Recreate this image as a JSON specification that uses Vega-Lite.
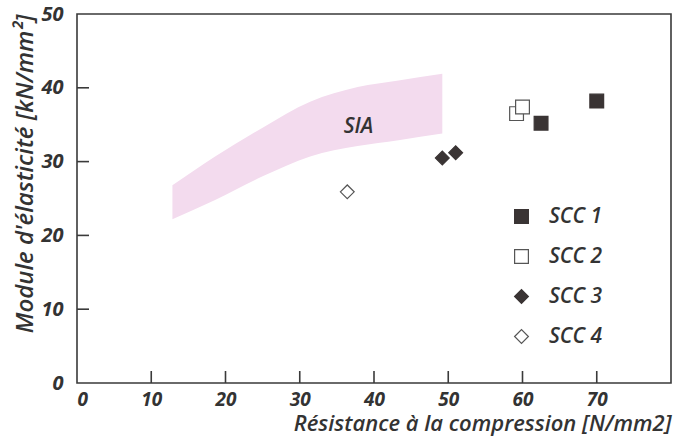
{
  "$schema": "https://vega.github.io/schema/vega-lite/v6.json",
  "autosize": "none",
  "width": 594,
  "height": 369,
  "padding": {"left": 77, "top": 14, "right": 4, "bottom": 63},
  "background": "white",
  "config": {
    "view": {"stroke": "#3a3a3a", "strokeWidth": 1.6},
    "font": "Open Sans",
    "axis": {
      "grid": false,
      "domain": false,
      "ticks": false,
      "labelFont": "Open Sans",
      "labelFontSize": 20,
      "labelFontWeight": "bold",
      "labelFontStyle": "italic",
      "labelColor": "#333333",
      "titleFont": "Open Sans",
      "titleFontWeight": 600,
      "titleFontStyle": "italic",
      "titleColor": "#333333"
    },
    "legend": {
      "orient": "none",
      "legendX": 434,
      "legendY": 192,
      "padding": 0,
      "rowPadding": 18,
      "labelFont": "Open Sans",
      "labelFontSize": 21,
      "labelFontWeight": 600,
      "labelFontStyle": "italic",
      "labelColor": "#333333",
      "labelOffset": 17,
      "symbolStrokeWidth": 1.2
    }
  },
  "datasets": {
    "sia": [
      {"x": 12.85, "lo": 22.2, "hi": 26.8},
      {"x": 18.6, "lo": 24.8, "hi": 30.7},
      {"x": 25.0, "lo": 28.0, "hi": 34.6},
      {"x": 31.4, "lo": 30.7, "hi": 38.1},
      {"x": 37.8, "lo": 32.1, "hi": 40.1},
      {"x": 43.3, "lo": 32.9, "hi": 41.0},
      {"x": 49.2, "lo": 33.8, "hi": 41.9}
    ],
    "pts": [
      {"series": "SCC 1", "x": 70, "y": 38.2},
      {"series": "SCC 1", "x": 62.5, "y": 35.2},
      {"series": "SCC 2", "x": 59.2, "y": 36.5},
      {"series": "SCC 2", "x": 60.0, "y": 37.4},
      {"series": "SCC 3", "x": 49.2, "y": 30.5},
      {"series": "SCC 3", "x": 51.0, "y": 31.2},
      {"series": "SCC 4", "x": 36.4, "y": 25.9}
    ],
    "lbl": [
      {"x": 37.9, "y": 34.7, "label": "SIA"}
    ],
    "xticks": [{"t": 10}, {"t": 20}, {"t": 30}, {"t": 40}, {"t": 50}, {"t": 60}, {"t": 70}],
    "yticks": [{"t": 10}, {"t": 20}, {"t": 30}, {"t": 40}]
  },
  "layer": [
    {
      "data": {"name": "sia"},
      "mark": {"type": "area", "color": "#f3dbee", "opacity": 1, "interpolate": "monotone"},
      "encoding": {
        "x": {
          "field": "x", "type": "quantitative",
          "scale": {"domain": [0, 80], "nice": false},
          "axis": {"values": [0, 10, 20, 30, 40, 50, 60, 70], "title": "Résistance à la compression [N/mm2]", "titleFontSize": 22, "titleAnchor": "end", "labelFontSize": 19, "labelPadding": 7, "titlePadding": 4}
        },
        "y": {
          "field": "lo", "type": "quantitative",
          "scale": {"domain": [0, 50], "nice": false},
          "axis": {"values": [0, 10, 20, 30, 40, 50], "title": "Module d'élasticité [kN/mm²]", "titleFontSize": 24, "titleAnchor": "end", "labelPadding": 14, "titlePadding": 3}
        },
        "y2": {"field": "hi"}
      }
    },
    {
      "data": {"name": "xticks"},
      "mark": {"type": "tick", "orient": "vertical", "color": "#3a3a3a", "thickness": 1.6, "size": 12, "opacity": 1},
      "encoding": {
        "x": {"field": "t", "type": "quantitative"},
        "y": {"datum": 0.81}
      }
    },
    {
      "data": {"name": "yticks"},
      "mark": {"type": "tick", "orient": "horizontal", "color": "#3a3a3a", "thickness": 1.6, "size": 12, "opacity": 1},
      "encoding": {
        "y": {"field": "t", "type": "quantitative"},
        "x": {"datum": 0.81}
      }
    },
    {
      "data": {"name": "lbl"},
      "mark": {"type": "text", "font": "Open Sans", "fontSize": 21, "fontWeight": 600, "fontStyle": "italic", "color": "#333333"},
      "encoding": {
        "x": {"field": "x", "type": "quantitative"},
        "y": {"field": "y", "type": "quantitative"},
        "text": {"field": "label"}
      }
    },
    {
      "data": {"name": "pts"},
      "mark": {"type": "point", "filled": true, "strokeWidth": 1.2, "opacity": 1},
      "encoding": {
        "x": {"field": "x", "type": "quantitative"},
        "y": {"field": "y", "type": "quantitative"},
        "shape": {"field": "series", "type": "nominal", "scale": {"domain": ["SCC 1", "SCC 2", "SCC 3", "SCC 4"], "range": ["square", "square", "diamond", "diamond"]}, "legend": {"title": null}},
        "fill": {"field": "series", "type": "nominal", "scale": {"domain": ["SCC 1", "SCC 2", "SCC 3", "SCC 4"], "range": ["#3a3434", "#ffffff", "#3a3434", "#ffffff"]}, "legend": {"title": null}},
        "stroke": {"field": "series", "type": "nominal", "scale": {"domain": ["SCC 1", "SCC 2", "SCC 3", "SCC 4"], "range": ["#3a3434", "#555555", "#3a3434", "#555555"]}, "legend": {"title": null}},
        "size": {"field": "series", "type": "nominal", "scale": {"domain": ["SCC 1", "SCC 2", "SCC 3", "SCC 4"], "range": [190, 190, 300, 300]}, "legend": {"title": null}}
      }
    }
  ]
}
